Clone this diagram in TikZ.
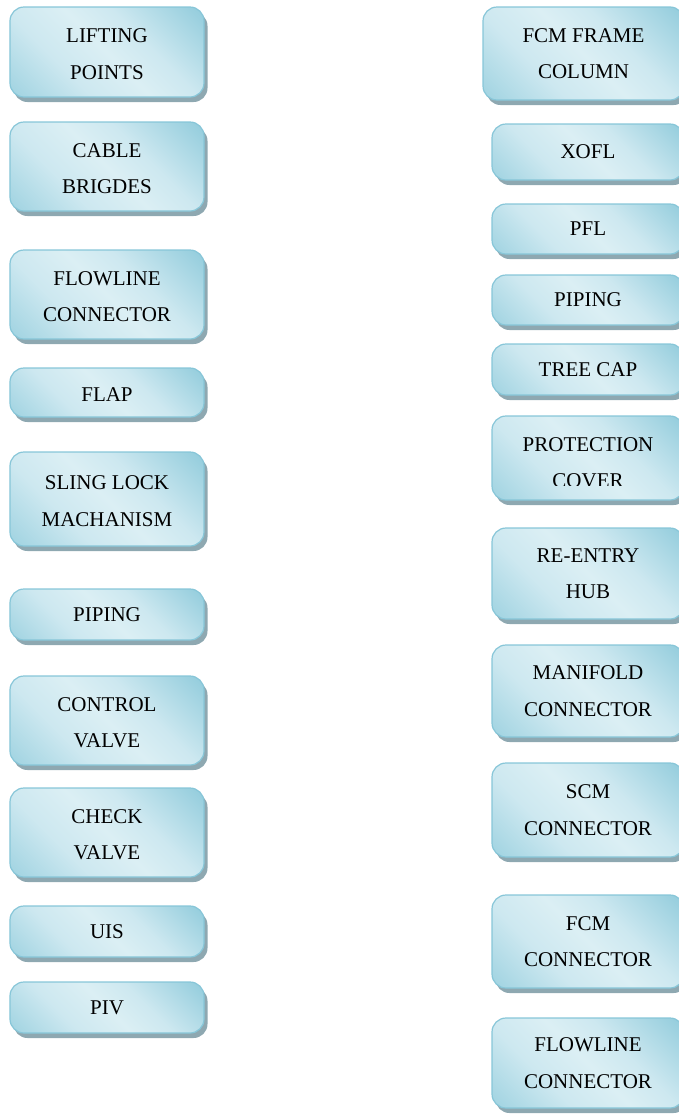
\documentclass[tikz,border=0pt]{standalone}
\usepackage{fontspec}
\setmainfont{Liberation Serif}
\usetikzlibrary{shadows}
\definecolor{cdark}{RGB}{146,204,220}
\definecolor{cmid}{RGB}{160,211,225}
\definecolor{clight}{RGB}{219,239,244}
\definecolor{clighttwo}{RGB}{205,232,240}
\definecolor{cborder}{RGB}{135,198,216}
\definecolor{cshadow}{RGB}{142,168,177}
\pgfdeclareverticalshading{aquabox}{100bp}{color(0bp)=(cmid); color(15bp)=(cmid); color(35bp)=(clighttwo); color(50bp)=(clight); color(62bp)=(clighttwo); color(85bp)=(cdark); color(100bp)=(cdark)}
\newcommand\lftstrut{\rule{0pt}{17.8bp}}
\tikzset{
  bxtext/.style={inner sep=0pt, align=center, font=\fontsize{21bp}{36.5bp}\selectfont, text=black},
  bx/.style={bxtext, rectangle, rounded corners=14bp, draw=cborder, line width=1.2bp,
    shading=aquabox, shading angle=-45,
    drop shadow={shadow xshift=3.5bp, shadow yshift=-5bp, fill=cshadow, opacity=1}},
  lbox/.style={bx, minimum width=194bp},
  rbox/.style={bx, minimum width=192bp},
}
\begin{document}
\begin{tikzpicture}[x=1bp,y=-1bp]
\useasboundingbox (0,0) rectangle (679,1115);
% left column
\node[lbox, minimum height=90bp] (lift) at (107,52) {\lftstrut LIFTING\\POINTS};
\node[lbox, minimum height=89bp] (cable) at (107,166.5) {\lftstrut CABLE\\BRIGDES};
\node[lbox, minimum height=89bp] (flowl) at (107,294.5) {\lftstrut FLOWLINE\\CONNECTOR};
\node[lbox, minimum height=49bp] (flap) at (107,392.5) {\lftstrut FLAP};
\node[lbox, minimum height=94bp] (sling) at (107,499) {\lftstrut SLING LOCK\\MACHANISM};
\node[lbox, minimum height=51bp] (pipel) at (107,614.5) {PIPING};
\node[lbox, minimum height=89bp] (ctrl) at (107,720.5) {\lftstrut CONTROL\\VALVE};
\node[lbox, minimum height=89bp] (check) at (107,832.5) {\lftstrut CHECK\\VALVE};
\node[lbox, minimum height=51bp] (uis) at (107,931.5) {UIS};
\node[lbox, minimum height=51bp] (piv) at (107,1007.5) {PIV};
% right column
\node[bx, minimum width=201bp, minimum height=93bp] (fcmf) at (583.5,53.5) {FCM FRAME\\COLUMN};
\node[rbox, minimum height=56bp] (xofl) at (588,152) {XOFL};
\node[rbox, minimum height=50bp] (pfl) at (588,229) {PFL};
\node[rbox, minimum height=50bp] (piper) at (588,300) {PIPING};
\node[rbox, minimum height=51bp] (tree) at (588,369.5) {TREE CAP};
\node[rbox, minimum height=84bp] (prot) at (588,458) {};
\begin{scope}
\clip (470,400) rectangle (700,485.5);
\node[bxtext] (prottext) at (prot.center) [yshift=-4.8bp] {PROTECTION\\COVER};
\end{scope}
\node[rbox, minimum height=91bp] (reentry) at (588,573.5) {RE-ENTRY\\HUB};
\node[rbox, minimum height=92bp] (manif) at (588,691) {MANIFOLD\\CONNECTOR};
\node[rbox, minimum height=94bp] (scm) at (588,810) {SCM\\CONNECTOR};
\node[rbox, minimum height=93bp] (fcmc) at (588,941.5) {FCM\\CONNECTOR};
\node[rbox, minimum height=90bp] (flowr) at (588,1063) {FLOWLINE\\CONNECTOR};
\end{tikzpicture}
\end{document}
